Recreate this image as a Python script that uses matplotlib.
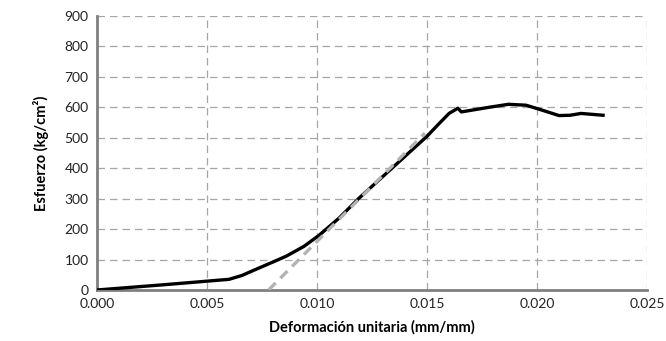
import matplotlib.pyplot as plt

# Datos
deformacion = [0.0, 0.0030, 0.0060, 0.0066, 0.0071, 0.0080, 0.0086, 0.0094, 0.0101, 0.0110, 0.0119,
               0.0150, 0.0155, 0.0160, 0.0164, 0.01656, 0.0178, 0.0187, 0.0195, 0.0200,
               0.0210, 0.0215, 0.0220, 0.0230]
esfuerzo = [0, 17, 35, 48, 64, 92, 111, 143, 180, 236, 301,
            505, 543, 580, 597, 585, 600, 610, 607, 596,
            573, 574, 580, 574]

# Recta de descarga (línea gris discontinua)
recta_x = [0.0078, 0.0149]
recta_y = [0, 515]

plt.rcParams['font.family'] = ['Lato', 'DejaVu Sans']

fig = plt.figure(figsize=(6.66, 3.41), dpi=100)
ax = fig.add_axes([0.1456, 0.1496, 0.826, 0.8034])

ax.plot(deformacion, esfuerzo, color='black', linewidth=2.4, solid_joinstyle='round', zorder=3)
ax.plot(recta_x, recta_y, color='#b3b3b3', linewidth=2.4, linestyle=(0, (3, 2)), zorder=4)

ax.set_xlim(0, 0.025)
ax.set_ylim(0, 900)
ax.set_xticks([0.000, 0.005, 0.010, 0.015, 0.020, 0.025])
ax.set_xticklabels(['0.000', '0.005', '0.010', '0.015', '0.020', '0.025'])
ax.set_yticks(range(0, 901, 100))

ax.grid(True, color='#a6a6a6', linestyle=(0, (6, 4)), linewidth=0.9)
ax.set_axisbelow(True)

for s in ['top', 'right']:
    ax.spines[s].set_visible(False)
for s in ['left', 'bottom']:
    ax.spines[s].set_color('#808080')
    ax.spines[s].set_linewidth(2)

ax.tick_params(length=0, labelsize=10, colors='#222222', pad=6)
ax.set_xlabel('Deformación unitaria (mm/mm)', fontsize=10.5, fontweight='bold', labelpad=7)
ax.set_ylabel('Esfuerzo (kg/cm²)', fontsize=10.5, fontweight='bold', labelpad=11)

fig.savefig('out.png', dpi=100)
